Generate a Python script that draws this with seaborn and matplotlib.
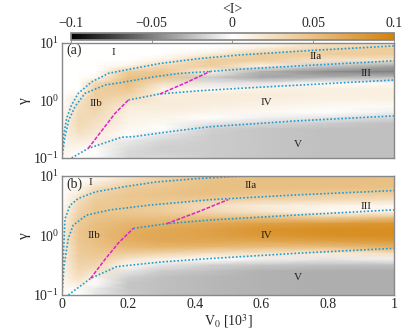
import numpy as np
import matplotlib
matplotlib.use("Agg")
import matplotlib.pyplot as plt
import seaborn as sns
from matplotlib.colors import LinearSegmentedColormap

sns.set_theme(style="white")
plt.rcParams['font.family'] = ['Liberation Serif', 'DejaVu Serif']
plt.rcParams['mathtext.fontset'] = 'stix'
plt.rcParams['font.size'] = 10

# grid nodes of the <I> maps (columns: V0, rows: log10 gamma from 1 down to -1)
v0_nodes = [0.0, 0.05, 0.1, 0.2, 0.3, 0.45, 0.6, 0.8, 1.0]
loggamma_nodes = [1.0, 0.9, 0.8, 0.7, 0.6, 0.5, 0.4, 0.3, 0.2, 0.1, 0.0,
                  -0.1, -0.2, -0.3, -0.4, -0.5, -0.6, -0.7, -0.8, -0.9, -1.0]

# panel (a), one list per V0 column
map_a_cols = [
    [0, 0, 0, 0, 0, 0, 0, 0, 0, 0, 0, 0, 0.002, 0.004, 0.006, 0.008, 0.01, 0.01, 0.01, 0.008, 0.005],
    [0, 0, 0, 0, 0, 0, 0, 0, 0, 0.01, 0.02, 0.025, 0.028, 0.03, 0.03, 0.028, 0.022, 0.015, 0.008, 0.003, 0],
    [0, 0, 0, 0, 0, 0, 0.005, 0.03, 0.038, 0.04, 0.038, 0.035, 0.032, 0.028, 0.024, 0.02, 0.015, 0.01, 0.005, 0, -0.003],
    [0, 0, 0, 0, 0.01, 0.04, 0.05, 0.05, 0.045, 0.035, 0.025, 0.015, 0.012, 0.01, 0.008, 0.005, 0, -0.008, -0.012, -0.015, -0.015],
    [0, 0, 0, 0.01, 0.03, 0.045, 0.045, 0.025, 0.01, 0.012, 0.015, 0.015, 0.012, 0.008, 0.004, 0, -0.01, -0.015, -0.018, -0.018, -0.015],
    [0, 0, 0.015, 0.04, 0.04, 0.01, -0.02, -0.01, 0.005, 0.015, 0.015, 0.012, 0.008, 0, -0.01, -0.018, -0.02, -0.02, -0.02, -0.02, -0.02],
    [0, 0.015, 0.04, 0.04, 0.01, -0.03, -0.035, -0.01, 0.01, 0.015, 0.012, 0.01, 0.005, -0.005, -0.015, -0.022, -0.022, -0.022, -0.022, -0.022, -0.022],
    [0.02, 0.035, 0.04, 0.02, -0.02, -0.045, -0.03, 0, 0.012, 0.012, 0.01, 0.005, 0, -0.01, -0.02, -0.025, -0.025, -0.025, -0.025, -0.025, -0.025],
    [0.02, 0.04, 0.04, 0.02, -0.035, -0.05, -0.025, 0.005, 0.012, 0.012, 0.01, 0.005, -0.005, -0.015, -0.025, -0.025, -0.025, -0.025, -0.025, -0.025, -0.025],
]

# panel (b)
map_b_cols = [
    [0, 0, 0, 0, 0, 0.003, 0.005, 0.008, 0.01, 0.012, 0.012, 0.012, 0.012, 0.012, 0.012, 0.01, 0.01, 0.008, 0.006, 0.004, 0.002],
    [0, 0.003, 0.008, 0.015, 0.025, 0.03, 0.035, 0.04, 0.042, 0.045, 0.045, 0.045, 0.042, 0.04, 0.038, 0.035, 0.03, 0.025, 0.015, 0.005, 0],
    [0.005, 0.012, 0.025, 0.035, 0.04, 0.045, 0.045, 0.048, 0.05, 0.052, 0.052, 0.05, 0.048, 0.045, 0.04, 0.032, 0.022, 0.01, 0, -0.008, -0.01],
    [0.02, 0.03, 0.04, 0.045, 0.045, 0.045, 0.045, 0.05, 0.058, 0.062, 0.065, 0.062, 0.055, 0.04, 0.02, 0.005, -0.01, -0.018, -0.022, -0.022, -0.02],
    [0.035, 0.04, 0.045, 0.048, 0.045, 0.04, 0.04, 0.05, 0.06, 0.068, 0.07, 0.068, 0.058, 0.035, 0.01, -0.01, -0.02, -0.025, -0.025, -0.025, -0.025],
    [0.045, 0.05, 0.05, 0.05, 0.04, 0.025, 0.03, 0.05, 0.068, 0.075, 0.075, 0.07, 0.055, 0.025, 0, -0.018, -0.025, -0.028, -0.028, -0.028, -0.028],
    [0.05, 0.05, 0.05, 0.045, 0.035, 0.015, 0.02, 0.05, 0.075, 0.085, 0.082, 0.07, 0.05, 0.02, -0.005, -0.022, -0.03, -0.03, -0.03, -0.03, -0.03],
    [0.05, 0.05, 0.05, 0.04, 0.03, 0.01, 0.005, 0.04, 0.08, 0.09, 0.088, 0.075, 0.05, 0.015, -0.01, -0.025, -0.032, -0.032, -0.032, -0.032, -0.032],
    [0.05, 0.05, 0.048, 0.04, 0.025, 0.005, 0.01, 0.05, 0.085, 0.09, 0.09, 0.08, 0.06, 0.025, -0.005, -0.025, -0.032, -0.032, -0.032, -0.032, -0.032],
]

# boundary curves, panel (a)
a_c1_v0 = [0.0, 0.005, 0.014, 0.029, 0.049, 0.089, 0.14, 0.215, 0.295, 0.42, 0.536, 0.75, 1.0]
a_c1_g = [0.12, 0.25, 0.49, 0.84, 1.33, 2.1, 2.97, 3.6, 4.4, 5.4, 6.2, 7.4, 8.9]
a_c2_v0 = [0.0, 0.008, 0.02, 0.039, 0.069, 0.13, 0.175, 0.28, 0.355, 0.446, 0.536, 0.75, 1.0]
a_c2_g = [0.1, 0.22, 0.45, 0.78, 1.33, 1.86, 2.04, 2.6, 2.96, 3.2, 3.5, 4.1, 4.9]
a_c3_v0 = [0.2, 0.295, 0.416, 0.536, 0.75, 1.0]
a_c3_g = [1.02, 1.3, 1.48, 1.63, 1.9, 2.27]
a_c4_v0 = [0.029, 0.079, 0.18, 0.215, 0.33, 0.446, 0.7, 1.0]
a_c4_g = [0.1, 0.147, 0.23, 0.235, 0.29, 0.35, 0.44, 0.54]
a_m1_v0 = [0.079, 0.12, 0.16, 0.2]
a_m1_g = [0.147, 0.3, 0.6, 1.02]
a_m2_v0 = [0.295, 0.37, 0.446]
a_m2_g = [1.3, 2.0, 3.2]

# boundary curves, panel (b)
b_c1_v0 = [0.0, 0.002, 0.005, 0.009, 0.024, 0.049, 0.1, 0.18, 0.28, 0.4, 0.545]
b_c1_g = [0.1, 0.25, 0.6, 1.9, 3.2, 4.2, 5.4, 6.5, 7.9, 9.0, 10.0]
b_c2_v0 = [0.0, 0.006, 0.019, 0.034, 0.074, 0.145, 0.265, 0.446, 0.7, 1.0]
b_c2_g = [0.1, 0.3, 0.9, 1.5, 2.2, 2.7, 3.25, 4.0, 4.8, 5.7]
b_c3_v0 = [0.215, 0.315, 0.446, 0.7, 1.0]
b_c3_g = [1.32, 1.58, 1.82, 2.2, 2.7]
b_c4_v0 = [0.019, 0.086, 0.165, 0.3, 0.446, 0.7, 1.0]
b_c4_g = [0.1, 0.19, 0.3, 0.36, 0.41, 0.5, 0.61]
b_m1_v0 = [0.086, 0.13, 0.17, 0.215]
b_m1_g = [0.19, 0.4, 0.75, 1.32]
b_m2_v0 = [0.315, 0.41, 0.5]
b_m2_g = [1.58, 2.5, 4.0]

labels_a = [("I", 0.154, 6.8), ("IIa", 0.765, 5.75), ("III", 0.915, 2.95),
            ("IV", 0.616, 0.94), ("V", 0.71, 0.17), ("IIb", 0.101, 0.89)]
labels_b = [("I", 0.084, 7.9), ("IIa", 0.568, 6.9), ("III", 0.915, 3.05),
            ("IV", 0.617, 1.0), ("V", 0.71, 0.2), ("IIb", 0.097, 1.0)]

cmap = LinearSegmentedColormap.from_list(
    "bwo", [(0.0, "#000000"), (0.5, "#ffffff"), (1.0, "#d4820a")])

fig = plt.figure(figsize=(4.15, 3.32), dpi=100)
ax_a = fig.add_axes([0.1494, 0.5241, 0.8, 0.3464])
ax_b = fig.add_axes([0.1494, 0.1114, 0.8, 0.3584])
cax = fig.add_axes([0.171, 0.881, 0.778, 0.0196])

blue = "#1f9bd0"
pink = "#e020c8"
X, Y = np.meshgrid(v0_nodes, 10 ** np.array(loggamma_nodes))

panels = [
    (ax_a, map_a_cols, "(a)", labels_a,
     [(a_c1_v0, a_c1_g), (a_c2_v0, a_c2_g), (a_c3_v0, a_c3_g), (a_c4_v0, a_c4_g)],
     [(a_m1_v0, a_m1_g), (a_m2_v0, a_m2_g)]),
    (ax_b, map_b_cols, "(b)", labels_b,
     [(b_c1_v0, b_c1_g), (b_c2_v0, b_c2_g), (b_c3_v0, b_c3_g), (b_c4_v0, b_c4_g)],
     [(b_m1_v0, b_m1_g), (b_m2_v0, b_m2_g)]),
]

for ax, cols, tag, labs, curves, mags in panels:
    Z = np.array(cols).T
    mesh = ax.pcolormesh(X, Y, Z, cmap=cmap, vmin=-0.1, vmax=0.1,
                         shading='gouraud', rasterized=True)
    for cx, cy in curves:
        sns.lineplot(x=cx, y=cy, ax=ax, color=blue, lw=1.2, linestyle=(0, (1, 1.2)),
                     sort=False, estimator=None)
    for mx, my in mags:
        sns.lineplot(x=mx, y=my, ax=ax, color=pink, lw=1.1, linestyle=(0, (2.5, 1)),
                     sort=False, estimator=None)
    for txt, lx, ly in labs:
        ax.text(lx, ly, txt, fontsize=8, ha='center', va='center', color='#222222')
    ax.text(0.012, 0.935, tag, transform=ax.transAxes, fontsize=10, va='center')
    ax.set_yscale('log')
    ax.set_xlim(0, 1)
    ax.set_ylim(0.1, 10)
    ax.set_xticks([0, 0.2, 0.4, 0.6, 0.8, 1.0])
    ax.tick_params(which='both', direction='in', top=True, right=True,
                   bottom=True, left=True, color='#777777', labelsize=10, pad=2)
    ax.tick_params(which='major', length=4, width=0.7)
    ax.tick_params(which='minor', length=2, width=0.6)
    ax.set_ylabel("γ", fontsize=11, labelpad=2)
    ax.set_xlabel("")
    for s in ax.spines.values():
        s.set_color('#888888')
        s.set_linewidth(1.0)

ax_a.set_xticklabels([])
ax_b.set_xticklabels(["0", "0.2", "0.4", "0.6", "0.8", "1"])
ax_b.set_xlabel("V$_0$ [10$^3$]", fontsize=10, labelpad=1)

cb = fig.colorbar(mesh, cax=cax, orientation='horizontal')
cb.set_ticks([-0.1, -0.05, 0, 0.05, 0.1])
cb.set_ticklabels(["\u22120.1", "\u22120.05", "0", "0.05", "0.1"])
cax.xaxis.set_ticks_position('top')
cax.xaxis.set_label_position('top')
cax.tick_params(direction='in', length=7, width=0.6, color='#888888', labelsize=10, pad=2)
cb.outline.set_edgecolor('#888888')
cb.set_label("<I>", fontsize=10, labelpad=3)

fig.savefig("out.png", dpi=100)
